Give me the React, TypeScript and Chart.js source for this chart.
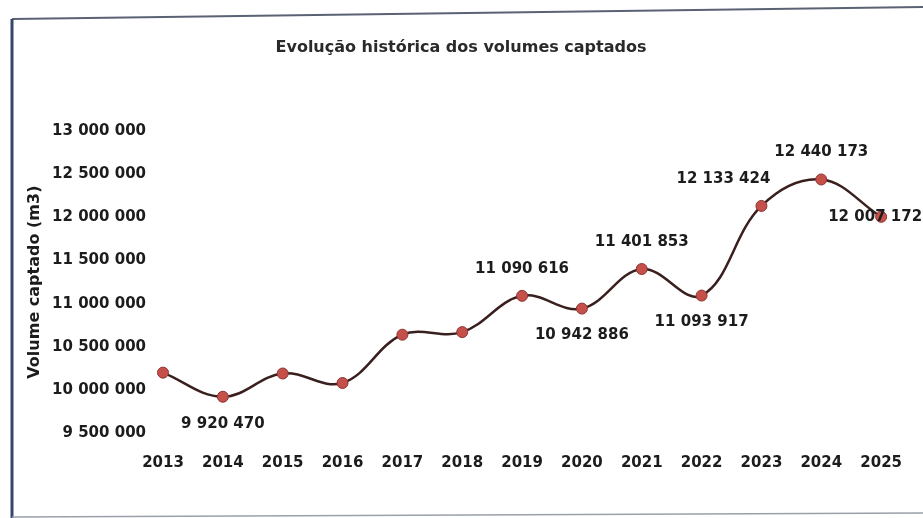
import React, { useEffect, useRef } from "react";
import { Chart, registerables } from "chart.js";

Chart.register(...registerables);

const years = ["2013", "2014", "2015", "2016", "2017", "2018", "2019", "2020", "2021", "2022", "2023", "2024", "2025"];
const volumes = [10200000, 9920470, 10190000, 10080000, 10640000, 10670000, 11090616, 10942886, 11401853, 11093917, 12133424, 12440173, 12007172];
const shownLabels = [false, true, false, false, false, false, true, true, true, true, true, true, true];
const labelSide = ["", "below", "", "", "", "", "above", "below", "above", "below", "aboveLeft", "above", "center"];
const yTickValues = [9500000, 10000000, 10500000, 11000000, 11500000, 12000000, 12500000, 13000000];

const fmt = (v: number) => Math.round(v).toString().replace(/\B(?=(\d{3})+(?!\d))/g, " ");

const FONT = "'DejaVu Sans', sans-serif";

const frameAndLabels = {
  id: "frameAndLabels",
  afterDatasetsDraw(chart: any) {
    const ctx = chart.ctx;
    const meta = chart.getDatasetMeta(0);
    ctx.save();
    ctx.font = `bold 15px ${FONT}`;
    ctx.fillStyle = "#1c1c1c";
    ctx.textAlign = "center";
    ctx.textBaseline = "middle";
    meta.data.forEach((pt: any, i: number) => {
      if (!shownLabels[i]) return;
      const side = labelSide[i];
      let x = pt.x;
      let y = pt.y;
      if (side === "above") y -= 27;
      else if (side === "below") y += 27;
      else if (side === "aboveLeft") { x -= 38; y -= 27; }
      else if (side === "center") { x -= 6; }
      ctx.fillText(fmt(volumes[i]), x, y);
    });
    ctx.restore();
  },
  afterDraw(chart: any) {
    const ctx = chart.ctx;
    ctx.save();
    ctx.lineWidth = 2;
    ctx.strokeStyle = "#5a6274";
    ctx.beginPath();
    ctx.moveTo(12, 19);
    ctx.lineTo(923, 7);
    ctx.stroke();
    ctx.strokeStyle = "#34486a";
    ctx.lineWidth = 3;
    ctx.beginPath();
    ctx.moveTo(12, 19);
    ctx.lineTo(12, 518);
    ctx.stroke();
    ctx.lineWidth = 1.5;
    ctx.strokeStyle = "#9aa0aa";
    ctx.beginPath();
    ctx.moveTo(12, 517);
    ctx.lineTo(923, 513);
    ctx.stroke();
    ctx.restore();
  },
};

export default function App() {
  const ref = useRef<HTMLCanvasElement | null>(null);
  useEffect(() => {
    if (!ref.current) return;
    const chart = new Chart(ref.current, {
      type: "line",
      data: {
        labels: years,
        datasets: [
          {
            data: volumes,
            borderColor: "#3a1f1f",
            borderWidth: 2.5,
            tension: 0.38,
            pointRadius: 5.5,
            pointBackgroundColor: "#c5504a",
            pointBorderColor: "#8c3434",
            pointBorderWidth: 1,
            fill: false,
          },
        ],
      },
      options: {
        responsive: false,
        maintainAspectRatio: false,
        animation: false,
        layout: { padding: { left: 30, right: 31, top: 0, bottom: 0 } },
        plugins: {
          legend: { display: false },
          tooltip: { enabled: false },
          title: {
            display: true,
            text: "Evolução histórica dos volumes captados",
            color: "#2a2a2a",
            font: { family: FONT, size: 16, weight: "bold", lineHeight: 1.2 },
            padding: { top: 38, bottom: 74 },
          },
        },
        scales: {
          x: {
            offset: false,
            grid: { display: false, drawTicks: false },
            border: { display: false },
            ticks: {
              color: "#1c1c1c",
              font: { family: FONT, size: 15, weight: "bold" },
              padding: 21,
              maxRotation: 0,
              autoSkip: false,
            },
            afterFit: (s: any) => { s.height = 85; },
          },
          y: {
            min: 9500000,
            max: 13000000,
            grid: { display: false, drawTicks: false },
            border: { display: false },
            afterBuildTicks: (s: any) => { s.ticks = yTickValues.map((v) => ({ value: v })); },
            ticks: {
              color: "#1c1c1c",
              font: { family: FONT, size: 15, weight: "bold" },
              padding: 17,
              callback: (v: any) => fmt(Number(v)),
            },
            title: {
              display: true,
              text: "Volume captado (m3)",
              color: "#1c1c1c",
              font: { family: FONT, size: 16, weight: "bold", lineHeight: 1.2 },
              padding: { top: -5, bottom: 0 },
            },
            afterFit: (s: any) => { s.width = 133; },
          },
        },
      },
      plugins: [frameAndLabels],
    });
    return () => chart.destroy();
  }, []);
  return (
    <div style={{ position: "absolute", left: 0, top: 0, width: 923, height: 518, background: "#fff" }}>
      <canvas ref={ref} width={923} height={518} />
    </div>
  );
}
